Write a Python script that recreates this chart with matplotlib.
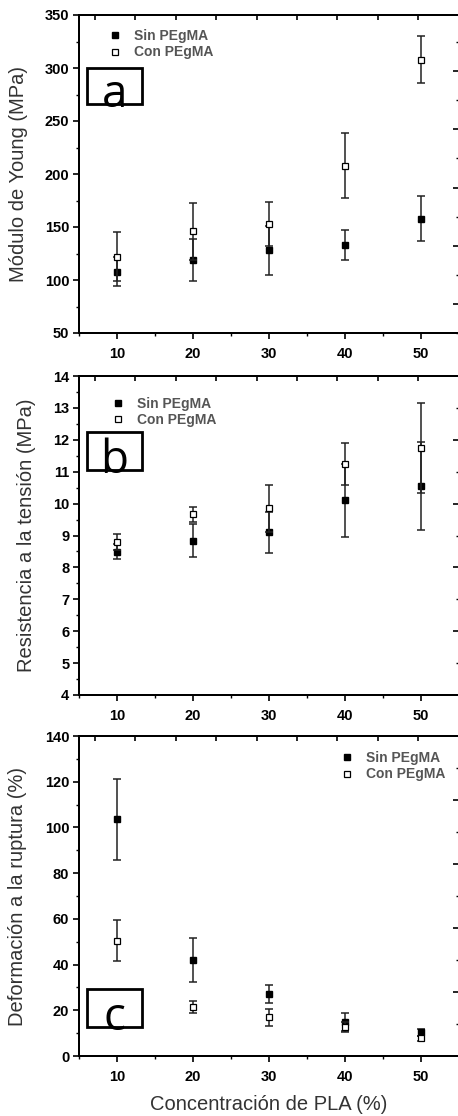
import numpy as np
import matplotlib
matplotlib.use("Agg")
import matplotlib.pyplot as plt
from matplotlib.patches import Rectangle
from matplotlib.ticker import MultipleLocator, NullFormatter

plt.rcParams.update({
    "font.family": ["Liberation Sans", "DejaVu Sans"],
    "axes.linewidth": 1.4,
    "xtick.major.width": 1.2, "ytick.major.width": 1.2,
    "xtick.minor.width": 1.0, "ytick.minor.width": 1.0,
})

# ---------------------------------------------------------------------
#  Data
# ---------------------------------------------------------------------
pla = [10, 20, 30, 40, 50]

young_sin = [108, 119, 128, 133, 158]
young_sin_err = [14, 20, 23, 14, 21]
young_con = [122, 146, 153, 208, 308]
young_con_err = [23, 27, 21, 31, 22]

tens_sin = [8.49, 8.84, 9.10, 10.10, 10.55]
tens_sin_err = [0.23, 0.51, 0.64, 1.15, 1.38]
tens_con = [8.81, 9.66, 9.85, 11.23, 11.75]
tens_con_err = [0.25, 0.24, 0.73, 0.66, 1.41]

def_sin = [103.5, 42, 27, 14.7, 10.3]
def_sin_err = [17.7, 9.5, 4.0, 4.0, 1.5]
def_con = [50.5, 21.6, 17, 12.8, 7.7]
def_con_err = [9.0, 2.6, 3.7, 2.0, 1.0]

series_names = ["Sin PEgMA", "Con PEgMA"]
ylabels = ["Módulo de Young (MPa)", "Resistencia a la tensión (MPa)",
           "Deformación a la ruptura (%)"]
xlabel = "Concentración de PLA (%)"
panel_tags = ["a", "b", "c"]

W, H = 458, 1116
fig = plt.figure(figsize=(W / 100, H / 100), dpi=100)


def px_axes(top, bottom, left=79, right=459):
    return fig.add_axes([left / W, 1 - bottom / H, (right - left) / W, (bottom - top) / H])


panels = [
    dict(top=15, bottom=333, ylim=(50, 350), maj=50, mnr=25, tw=(1.0, 11.93),
         leg=(0.076, 0.955), box=(0.021, 0.72, 0.145, 0.113), lx=-0.134,
         data=(young_sin, young_sin_err, young_con, young_con_err)),
    dict(top=376, bottom=695, ylim=(4, 14), maj=1, mnr=0.5, tw=(4, 14),
         leg=(0.084, 0.935), box=(0.021, 0.705, 0.145, 0.12), lx=-0.113,
         data=(tens_sin, tens_sin_err, tens_con, tens_con_err)),
    dict(top=736, bottom=1056, ylim=(0, 140), maj=20, mnr=10, tw=(0, 10),
         leg=(0.687, 0.952), box=(0.021, 0.09, 0.145, 0.12), lx=-0.137,
         data=(def_sin, def_sin_err, def_con, def_con_err)),
]

for i, p in enumerate(panels):
    ax = px_axes(p["top"], p["bottom"])
    ys, es, yc, ec = p["data"]

    ax.errorbar(pla, ys, yerr=es, fmt="none", ecolor="#222222",
                elinewidth=1.1, capsize=2.6, capthick=1.1, zorder=2)
    ax.plot(pla, ys, "s", color="black", ms=5, label=series_names[0], zorder=3)
    ax.errorbar(pla, yc, yerr=ec, fmt="none", ecolor="#222222",
                elinewidth=1.1, capsize=2.6, capthick=1.1, zorder=4)
    ax.plot(pla, yc, "s", mfc="white", mec="black", mew=0.9, ms=5,
            label=series_names[1], zorder=5)

    ax.set_xlim(5, 55)
    ax.set_ylim(*p["ylim"])
    ax.xaxis.set_major_locator(MultipleLocator(10))
    ax.xaxis.set_minor_locator(MultipleLocator(5))
    ax.yaxis.set_major_locator(MultipleLocator(p["maj"]))
    ax.yaxis.set_minor_locator(MultipleLocator(p["mnr"]))
    ax.tick_params(which="major", direction="out", length=4, labelsize=10.5, pad=3)
    ax.tick_params(axis="x", which="major", pad=6)
    ax.tick_params(which="minor", direction="out", length=2.5)
    for lab in ax.get_xticklabels() + ax.get_yticklabels():
        lab.set_fontweight("bold")
    ax.set_ylabel(ylabels[i], fontsize=14.5, color="#333333")
    ax.yaxis.set_label_coords(p["lx"], 0.5)

    # decorative twin ticks on top and right (different scale in the source)
    axr = ax.twinx()
    axr.set_ylim(*p["tw"])
    axr.yaxis.set_major_locator(MultipleLocator(2))
    axr.yaxis.set_minor_locator(MultipleLocator(1))
    axr.yaxis.set_major_formatter(NullFormatter())
    axr.tick_params(which="major", direction="in", length=4)
    axr.tick_params(which="minor", direction="in", length=2)
    axt = ax.twiny()
    axt.set_xlim(-0.396, 9.01)
    axt.xaxis.set_major_locator(MultipleLocator(1))
    axt.xaxis.set_major_formatter(NullFormatter())
    axt.tick_params(which="major", direction="in", length=3.5)

    leg = ax.legend(loc="upper left", bbox_to_anchor=p["leg"], frameon=False,
                    borderpad=0, borderaxespad=0, handlelength=1.0,
                    handletextpad=0.9, labelspacing=0.15, markerscale=0.8,
                    prop={"weight": "bold", "size": 10})
    for t in leg.get_texts():
        t.set_color("#555555")

    bx, by, bw, bh = p["box"]
    ax.add_patch(Rectangle((bx, by), bw, bh, transform=ax.transAxes,
                           fill=False, lw=2.0, ec="black", zorder=6))
    ax.text(bx + bw / 2, by - 0.008, panel_tags[i], transform=ax.transAxes,
            ha="center", va="baseline", fontsize=33, family="Open Sans", zorder=7)

    if i == 2:
        ax.set_xlabel(xlabel, fontsize=14.5, color="#333333", labelpad=8)

fig.savefig("out.png", dpi=100)
